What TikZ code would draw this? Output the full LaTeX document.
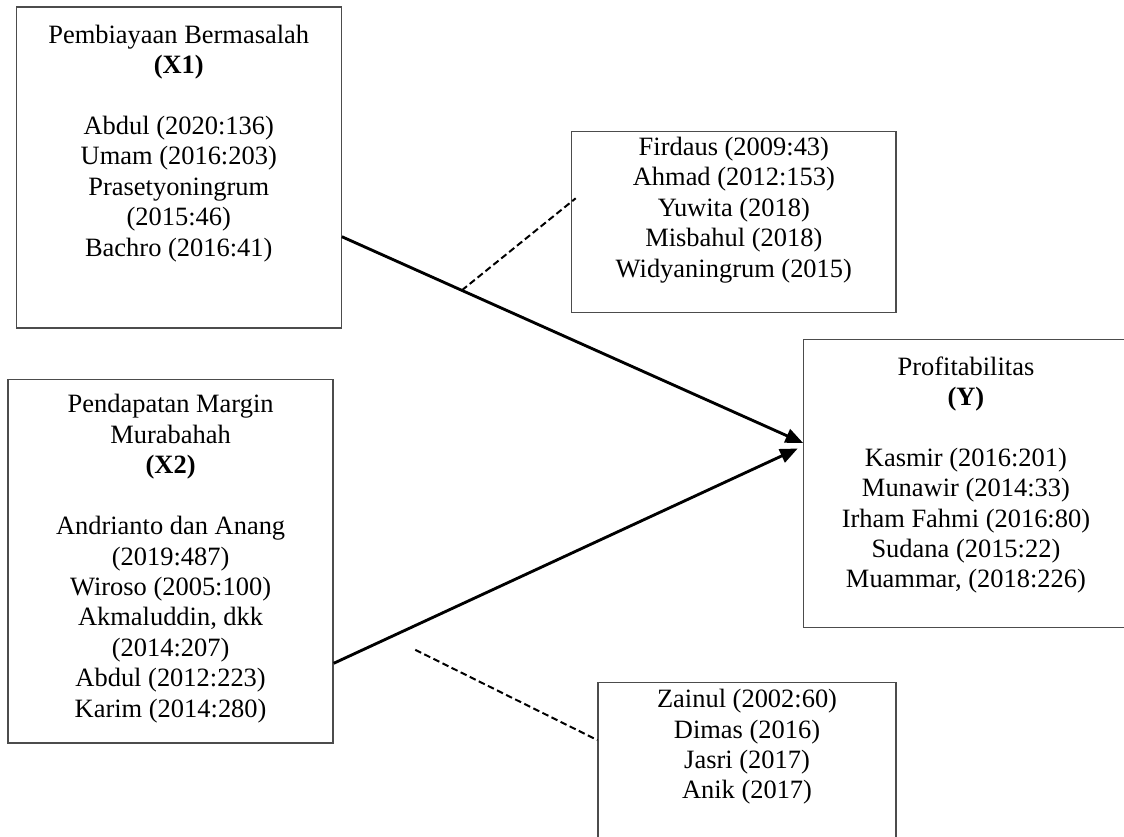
\documentclass[tikz,border=0pt]{standalone}
\usepackage{fontspec}
\setmainfont{Liberation Serif}
\usetikzlibrary{arrows.meta,positioning}

\tikzset{
  varbox/.style={draw=black!70, line width=0.6pt, minimum width=5.18cm},
  boxtext/.style={align=center, inner sep=0pt, font=\fontsize{12}{13.8}\selectfont},
  effect/.style={line width=1.3pt, -{Triangle[length=8pt,width=6.5pt]}},
  theory/.style={line width=0.9pt, dash pattern=on 3pt off 1.6pt},
}

\begin{document}
\begin{tikzpicture}
  \useasboundingbox (0,0) rectangle (17.92,13.34);            % page size
  \clip (0,0) rectangle (17.92,13.34);

  % variables
  \node[varbox, minimum height=5.12cm] (x1) at (2.85,10.67) {};
  \node[boxtext, below=8.2pt of x1.north] (x1txt)
    {Pembiayaan Bermasalah\\ \textbf{(X1)}\\[13.8pt]
     Abdul (2020:136)\\ Umam (2016:203)\\ Prasetyoningrum\\ (2015:46)\\ Bachro (2016:41)};

  \node[varbox, minimum height=5.79cm] (x2) at (2.72,4.39) {};
  \node[boxtext, below=6.8pt of x2.north] (x2txt)
    {Pendapatan Margin\\ Murabahah\\ \textbf{(X2)}\\[13.8pt]
     Andrianto dan Anang\\ (2019:487)\\ Wiroso (2005:100)\\ Akmaluddin, dkk\\ (2014:207)\\
     Abdul (2012:223)\\ Karim (2014:280)};

  \node[varbox, minimum width=5.17cm, minimum height=4.59cm] (y) at (15.40,5.63) {};
  \node[boxtext, below=7.7pt of y.north] (ytxt)
    {Profitabilitas\\ \textbf{(Y)}\\[13.8pt]
     Kasmir (2016:201)\\ Munawir (2014:33)\\ Irham Fahmi (2016:80)\\ Sudana (2015:22)\\
     Muammar, (2018:226)};

  % supporting studies
  \node[varbox, minimum width=5.17cm, minimum height=2.89cm] (med1) at (11.70,9.80) {};
  \node[boxtext, below=2.7pt of med1.north] (med1txt)
    {Firdaus (2009:43)\\ Ahmad (2012:153)\\ Yuwita (2018)\\ Misbahul (2018)\\ Widyaningrum (2015)};

  \node[varbox, minimum width=4.75cm, minimum height=2.68cm] (med2) at (11.91,1.12) {};
  \node[boxtext, below=3.2pt of med2.north] (med2txt)
    {Zainul (2002:60)\\ Dimas (2016)\\ Jasri (2017)\\ Anik (2017)};

  % effects
  \draw[effect] (x1.-23.2) -- (y.166.5) coordinate[pos=0.26] (d1);
  \draw[effect, shorten >=2.7pt] (x2.-32.2) -- (y.167.3);

  \coordinate (d2) at (6.62,2.98);
  \draw[theory, shorten >=-2.7pt] (d1) -- (med1.173.6);
  \draw[theory] (d2) -- (med2.170.9);
\end{tikzpicture}
\end{document}
